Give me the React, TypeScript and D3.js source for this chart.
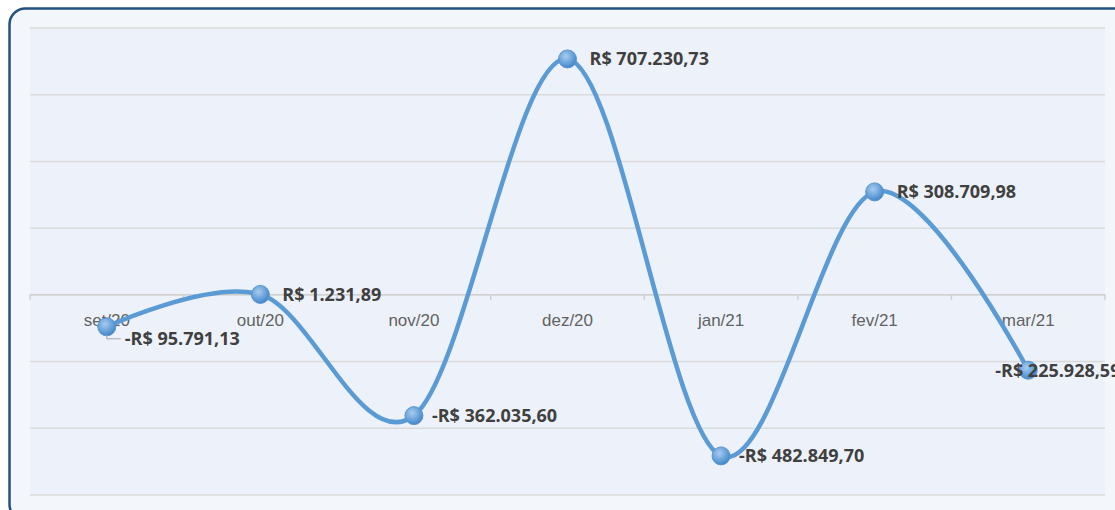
import React from 'react';
import * as d3 from 'd3';

const width = 1115;
const height = 510;

const categories = ['set/20', 'out/20', 'nov/20', 'dez/20', 'jan/21', 'fev/21', 'mar/21'];
const values = [-95791.13, 1231.89, -362035.6, 707230.73, -482849.7, 308709.98, -225928.59];
const labelPlacement = ['below', 'right', 'right', 'right', 'right', 'right', 'center'];
const yTicks = d3.range(-600000, 800001, 200000);

const plot = { left: 30, right: 1105, top: 28, bottom: 495 };

const fmtNum = (v: number) => {
  const abs = Math.abs(v);
  const [int, dec] = abs.toFixed(2).split('.');
  const intStr = int.replace(/\B(?=(\d{3})+(?!\d))/g, '.');
  return `${v < 0 ? '-' : ''}R$ ${intStr},${dec}`;
};

const labelFont = "'Open Sans', 'Liberation Sans', sans-serif";

const App: React.FC = () => {
  const x = d3.scaleBand<string>().domain(categories).range([plot.left, plot.right]);
  const y = d3.scaleLinear().domain([-600000, 800000]).range([plot.bottom, plot.top]);
  const cx = (c: string) => (x(c) as number) + x.bandwidth() / 2;
  const y0 = y(0);

  const line = d3
    .line<number>()
    .x((_, i) => cx(categories[i]))
    .y(d => y(d))
    .curve(d3.curveCardinal.tension(0));

  const boundaries = categories.map(c => x(c) as number).concat([plot.right]);

  return (
    <svg
      width={width}
      height={height}
      style={{ position: 'absolute', top: 0, left: 0 }}
      fontFamily="'Liberation Sans', Arial, sans-serif"
    >
      <defs>
        <radialGradient id="mk" cx="40%" cy="35%" r="70%">
          <stop offset="0%" stopColor="#a9cbee" />
          <stop offset="55%" stopColor="#6aa4dc" />
          <stop offset="100%" stopColor="#3f7fc2" />
        </radialGradient>
      </defs>
      <rect x={9.5} y={8.5} width={1130} height={512} rx={16} fill="#f3f7fb" stroke="#22507f" strokeWidth={2.5} />
      <rect x={plot.left} y={plot.top} width={plot.right - plot.left} height={plot.bottom - plot.top} fill="#edf2fa" />
      {yTicks.map(t => (
        <line key={t} x1={plot.left} x2={plot.right} y1={y(t)} y2={y(t)} stroke="#dadada" strokeWidth={1.5} />
      ))}
      <line x1={plot.left} x2={plot.right} y1={y0} y2={y0} stroke="#d0d0d0" strokeWidth={1.5} />
      {boundaries.map((b, i) => (
        <line key={i} x1={b} x2={b} y1={y0} y2={y0 + 5} stroke="#d0d0d0" strokeWidth={1.5} />
      ))}
      {categories.map(c => (
        <text key={c} x={cx(c)} y={y0 + 31} textAnchor="middle" fontSize={17} fill="#626262">
          {c}
        </text>
      ))}
      <path d={line(values) ?? ''} fill="none" stroke="#5b9bd5" strokeWidth={4.5} strokeLinecap="round" />
      {values.map((v, i) => (
        <circle key={i} cx={cx(categories[i])} cy={y(v)} r={9} fill="url(#mk)" stroke="#5a96d3" strokeWidth={1} />
      ))}
      {values.map((v, i) => {
        const px = cx(categories[i]);
        const py = y(v);
        const p = labelPlacement[i];
        const common = { fontSize: 18, fontWeight: 'bold', fill: '#404040', fontFamily: labelFont, dy: '0.36em' };
        if (p === 'below') {
          return (
            <g key={i}>
              <polyline points={`${px},${py + 8} ${px},${py + 12} ${px + 14},${py + 12}`} fill="none" stroke="#a6a6a6" strokeWidth={1} />
              <text x={px + 18} y={py + 12} {...common}>
                {fmtNum(v)}
              </text>
            </g>
          );
        }
        if (p === 'center') {
          return (
            <text key={i} x={px - 33} y={py} {...common}>
              {fmtNum(v)}
            </text>
          );
        }
        return (
          <text key={i} x={px + (v < 0 ? 18 : 22)} y={py} {...common}>
            {fmtNum(v)}
          </text>
        );
      })}
    </svg>
  );
};

export default App;
